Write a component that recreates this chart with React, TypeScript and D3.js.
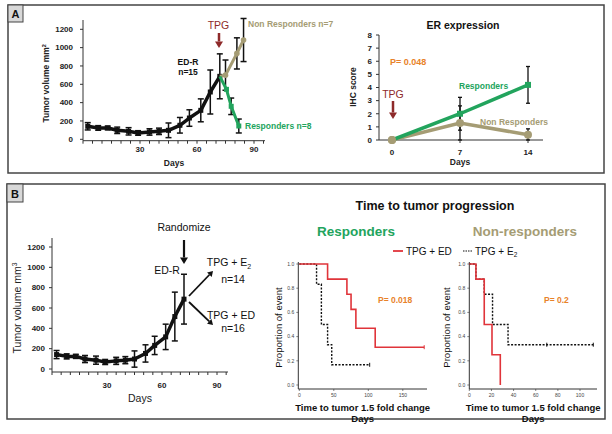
import React from 'react';
import * as d3 from 'd3';

// ---------- DATA ----------
const growthDays = [2.5, 8, 13, 18, 24, 29, 35, 40, 45, 51, 56, 62, 67, 72];
const growthVol = [142, 124, 124, 98, 87, 69, 80, 87, 98, 153, 232, 316, 516, 687];
const growthErr = [40, 25, 20, 35, 40, 25, 35, 35, 80, 85, 90, 125, 240, 245];

const respDays = [72, 75.5, 78, 82];
const respVol = [687, 545, 360, 145];
const respErr = [0, 0, 90, 76];

const nonRespDays = [72, 75, 81, 84.5];
const nonRespVol = [687, 700, 937, 1083];
const nonRespErr = [0, 165, 170, 235];

const volTicks = [0, 200, 400, 600, 800, 1000, 1200];
const dayTicks = [30, 60, 90];

const erDays = [0, 7, 14];
const erResp = [0, 2, 4.2];
const erRespErr = [0, 1.25, 1.4];
const erNon = [0, 1.3, 0.4];
const erNonErr = [0, 1.3, 0.45];
const ihcTicks = [0, 1, 2, 3, 4, 5, 6, 7, 8];

const kmRespEDTimes = [0, 41, 69, 75, 82, 110];
const kmRespEDSurv = [1, 0.875, 0.75, 0.625, 0.469, 0.3125];
const kmRespEDEnd = 181;
const kmRespE2Times = [0, 25, 32, 41, 47];
const kmRespE2Surv = [1, 0.833, 0.5, 0.333, 0.167];
const kmRespE2End = 102;

const kmNonEDTimes = [0, 6, 13.5, 20.5, 28];
const kmNonEDSurv = [1, 0.875, 0.5, 0.25, 0];
const kmNonEDEnd = 28;
const kmNonE2Times = [0, 6, 13.5, 21, 35];
const kmNonE2Surv = [1, 0.875, 0.75, 0.5, 0.333];
const kmNonE2End = 112;
const kmNonE2Censor = [70, 112];

const propTicks = [0, 0.2, 0.4, 0.6, 0.8, 1.0];
const kmRespXTicks = [0, 50, 100, 150];
const kmNonXTicks = [0, 20, 40, 60, 80, 100];

// ---------- STYLE ----------
const FONT = "Arial, 'Liberation Sans', sans-serif";
const GREEN = '#22a45d';
const TAN = '#a59c74';
const DARKRED = '#8e2a2a';
const ORANGE = '#e8822a';
const RED = '#e0343a';
const AXIS = '#333';

type Pt = [number, number];

function ErrBars({ xs, ys, es, x, y, cap = 3, color = '#111', w = 1.5 }: any) {
  return (
    <g stroke={color} strokeWidth={w}>
      {xs.map((d: number, i: number) =>
        es[i] > 0 ? (
          <g key={i}>
            <line x1={x(d)} x2={x(d)} y1={y(ys[i] + es[i])} y2={y(Math.max(0, ys[i] - es[i]))} />
            <line x1={x(d) - cap} x2={x(d) + cap} y1={y(ys[i] + es[i])} y2={y(ys[i] + es[i])} />
            <line x1={x(d) - cap} x2={x(d) + cap} y1={y(Math.max(0, ys[i] - es[i]))} y2={y(Math.max(0, ys[i] - es[i]))} />
          </g>
        ) : null
      )}
    </g>
  );
}

function Arrow({ x1, y1, x2, y2, color, w = 2.5, head = 6 }: any) {
  const ang = Math.atan2(y2 - y1, x2 - x1);
  const hx = x2 - Math.cos(ang) * head * 1.3;
  const hy = y2 - Math.sin(ang) * head * 1.3;
  const px = Math.sin(ang) * head * 0.8;
  const py = -Math.cos(ang) * head * 0.8;
  return (
    <g>
      <line x1={x1} y1={y1} x2={hx} y2={hy} stroke={color} strokeWidth={w} />
      <polygon points={`${x2},${y2} ${hx + px},${hy + py} ${hx - px},${hy - py}`} fill={color} />
    </g>
  );
}

function GrowthChart({ x, y, axisY, yTop, xEnd, tickFont, labelFont, labelBold, yLabelX, daysY, tickLabelY, yLabelRight, showBranches }: any) {
  const line = d3.line<Pt>().x((d) => x(d[0])).y((d) => y(d[1]));
  const blackPts: Pt[] = growthDays.map((d, i) => [d, growthVol[i]]);
  const respPts: Pt[] = respDays.map((d, i) => [d, respVol[i]]);
  const nonPts: Pt[] = nonRespDays.map((d, i) => [d, nonRespVol[i]]);
  const minor = d3.range(0, 96, 5);
  const x0 = x(0);
  return (
    <g fontFamily={FONT}>
      <line x1={x0} x2={x0} y1={yTop} y2={axisY} stroke={AXIS} strokeWidth={1} />
      <line x1={x0} x2={xEnd} y1={axisY} y2={axisY} stroke={AXIS} strokeWidth={1} />
      {volTicks.map((t) => (
        <g key={t}>
          <line x1={x0 - 3} x2={x0} y1={y(t)} y2={y(t)} stroke={AXIS} />
          <text x={yLabelRight} y={y(t)} dy="0.35em" textAnchor="end" fontSize={tickFont} fontWeight="bold" fill="#222">{t}</text>
        </g>
      ))}
      {minor.map((t) => (
        <line key={t} x1={x(t)} x2={x(t)} y1={axisY} y2={axisY + 3} stroke={AXIS} />
      ))}
      {dayTicks.map((t) => (
        <text key={t} x={x(t)} y={tickLabelY} textAnchor="middle" fontSize={tickFont} fontWeight="bold" fill="#222">{t}</text>
      ))}
      <text x={(x0 + xEnd) / 2} y={daysY} textAnchor="middle" fontSize={labelFont} fontWeight={labelBold ? 'bold' : 'normal'} fill="#222">Days</text>
      <text transform={`translate(${yLabelX},${(yTop + axisY) / 2 + 3}) rotate(-90)`} textAnchor="middle" fontSize={labelFont} fontWeight={labelBold ? 'bold' : 'normal'} fill="#222">
        Tumor volume mm<tspan dy={-labelFont * 0.4} fontSize={labelFont * 0.65}>{showBranches ? '2' : '3'}</tspan>
      </text>
      <ErrBars xs={growthDays} ys={growthVol} es={growthErr} x={x} y={y} />
      <path d={line(blackPts) || ''} fill="none" stroke="#111" strokeWidth={3.5} strokeLinejoin="round" />
      {blackPts.map((p, i) => (
        <rect key={i} x={x(p[0]) - 2.5} y={y(p[1]) - 2.5} width={5} height={5} fill="#111" />
      ))}
      {showBranches && (
        <g>
          <ErrBars xs={nonRespDays} ys={nonRespVol} es={nonRespErr} x={x} y={y} />
          <ErrBars xs={respDays} ys={respVol} es={respErr} x={x} y={y} />
          <path d={line(nonPts) || ''} fill="none" stroke={TAN} strokeWidth={3} />
          {nonPts.slice(1).map((p, i) => (
            <circle key={i} cx={x(p[0])} cy={y(p[1])} r={2.8} fill={TAN} />
          ))}
          <path d={line(respPts) || ''} fill="none" stroke={GREEN} strokeWidth={3} />
          {respPts.slice(1).map((p, i) => (
            <rect key={i} x={x(p[0]) - 2.5} y={y(p[1]) - 2.5} width={5} height={5} fill={GREEN} />
          ))}
        </g>
      )}
    </g>
  );
}

function KM({ x, y, axisX, axisY, yTop, xEnd, xTicks, yLabelX, title, titleColor, titleX, pText, pX }: any) {
  return (
    <g fontFamily={FONT}>
      <line x1={axisX} x2={axisX} y1={yTop} y2={axisY} stroke={AXIS} strokeWidth={1} />
      <line x1={axisX} x2={xEnd} y1={axisY} y2={axisY} stroke={AXIS} strokeWidth={1} />
      {propTicks.map((t) => (
        <g key={t}>
          <line x1={axisX - 2} x2={axisX} y1={y(t)} y2={y(t)} stroke={AXIS} strokeWidth={0.6} />
          <text x={axisX - 4} y={y(t)} dy="0.35em" textAnchor="end" fontSize={5} fill="#444">{t.toFixed(1)}</text>
        </g>
      ))}
      {xTicks.map((t: number) => (
        <g key={t}>
          <line x1={x(t)} x2={x(t)} y1={axisY} y2={axisY + 2} stroke={AXIS} strokeWidth={0.6} />
          <text x={x(t)} y={axisY + 8} textAnchor="middle" fontSize={5} fill="#444">{t}</text>
        </g>
      ))}
      <text x={(axisX + xEnd) / 2} y={axisY + 22} textAnchor="middle" fontSize={9.5} fontWeight="bold" fill="#111">Time to tumor 1.5 fold change</text>
      <text x={(axisX + xEnd) / 2} y={axisY + 32.5} textAnchor="middle" fontSize={9.5} fontWeight="bold" fill="#111">Days</text>
      <text transform={`translate(${yLabelX},${(yTop + axisY) / 2 + 2}) rotate(-90)`} textAnchor="middle" fontSize={9.5} fill="#111">Proportion of event</text>
      <text x={titleX} y={236} textAnchor="middle" fontSize={13.5} fontWeight="bold" fill={titleColor}>{title}</text>
      <text x={pX} y={303} fontSize={8.5} fontWeight="bold" fill={ORANGE}>{pText}</text>
    </g>
  );
}

function stepPath(times: number[], surv: number[], end: number, x: any, y: any) {
  const pts: Pt[] = times.map((t, i) => [t, surv[i]]);
  pts.push([end, surv[surv.length - 1]]);
  return d3.line<Pt>().x((d) => x(d[0])).y((d) => y(d[1])).curve(d3.curveStepAfter)(pts) || '';
}

export default function App() {
  const xA = d3.scaleLinear().domain([0, 96]).range([83, 265.4]);
  const yA = d3.scaleLinear().domain([0, 1200]).range([139.3, 29.3]);
  const xB = d3.scaleLinear().domain([0, 96]).range([52, 228]);
  const yB = d3.scaleLinear().domain([0, 1200]).range([369, 247]);
  const xE = d3.scaleLinear().domain([0, 14]).range([392, 528]);
  const yE = d3.scaleLinear().domain([0, 8]).range([140, 35]);
  const lineE = d3.line<Pt>().x((d) => xE(d[0])).y((d) => yE(d[1]));
  const xK1 = d3.scaleLinear().domain([0, 150]).range([299.3, 402.8]);
  const yK = d3.scaleLinear().domain([0, 1]).range([385, 264]);
  const xK2 = d3.scaleLinear().domain([0, 100]).range([469.3, 580]);

  return (
    <svg width={612} height={434} style={{ position: 'absolute', left: 0, top: 0, background: '#fff' }} fontFamily={FONT}>
      <rect x={0} y={0} width={612} height={434} fill="#fff" />
      <rect x={8} y={5} width={596} height={168} fill="none" stroke="#444" strokeWidth={1.5} />
      <rect x={8} y={5} width={15} height={17} fill="#d8d8d8" stroke="#444" strokeWidth={1} />
      <text x={15.5} y={18} textAnchor="middle" fontSize={11} fontWeight="bold" fill="#111">A</text>
      <rect x={7} y={184} width={598} height={235} fill="none" stroke="#444" strokeWidth={1.5} />
      <rect x={7} y={184} width={16} height={18} fill="#d8d8d8" stroke="#444" strokeWidth={1} />
      <text x={15} y={197.5} textAnchor="middle" fontSize={11} fontWeight="bold" fill="#111">B</text>

      <GrowthChart x={xA} y={yA} axisY={140.7} yTop={20} xEnd={265} tickFont={8} labelFont={8.5} labelBold={true}
        yLabelX={49} daysY={166} tickLabelY={152} yLabelRight={73} showBranches={true} />
      <text x={218.5} y={29} textAnchor="middle" fontSize={10.5} fill={DARKRED}>TPG</text>
      <Arrow x1={219} y1={33} x2={219} y2={48} color={DARKRED} w={2.5} head={5} />
      <text x={188} y={65} textAnchor="middle" fontSize={8.5} fontWeight="bold" fill="#111">ED-R</text>
      <text x={188} y={75} textAnchor="middle" fontSize={8.5} fontWeight="bold" fill="#111">n=15</text>
      <text x={248} y={27} fontSize={8.5} fontWeight="bold" fill={TAN}>Non Responders  n=7</text>
      <text x={245} y={129} fontSize={8.5} fontWeight="bold" fill={GREEN}>Responders n=8</text>

      <g fontFamily={FONT}>
        <text x={463} y={29} textAnchor="middle" fontSize={10.5} fontWeight="bold" fill="#111">ER expression</text>
        <line x1={379} x2={379} y1={35} y2={140} stroke={AXIS} />
        <line x1={379} x2={543} y1={140} y2={140} stroke={AXIS} />
        {ihcTicks.map((t) => (
          <g key={t}>
            <line x1={376} x2={379} y1={yE(t)} y2={yE(t)} stroke={AXIS} />
            <text x={372} y={yE(t)} dy="0.35em" textAnchor="end" fontSize={8} fontWeight="bold" fill="#222">{t}</text>
          </g>
        ))}
        {erDays.map((t) => (
          <g key={t}>
            <line x1={xE(t)} x2={xE(t)} y1={140} y2={143} stroke={AXIS} />
            <text x={xE(t)} y={155} textAnchor="middle" fontSize={8} fontWeight="bold" fill="#222">{t}</text>
          </g>
        ))}
        <text x={460} y={165} textAnchor="middle" fontSize={8.5} fontWeight="bold" fill="#222">Days</text>
        <text transform="translate(356,87) rotate(-90)" textAnchor="middle" fontSize={8.5} fontWeight="bold" fill="#222">IHC score</text>
        <ErrBars xs={erDays} ys={erNon} es={erNonErr} x={xE} y={yE} cap={2} w={1.3} />
        <ErrBars xs={erDays} ys={erResp} es={erRespErr} x={xE} y={yE} cap={2} w={1.3} />
        <path d={lineE(erDays.map((d, i) => [d, erNon[i]] as Pt)) || ''} fill="none" stroke={TAN} strokeWidth={3.5} />
        {erDays.map((d, i) => (
          <circle key={i} cx={xE(d)} cy={yE(erNon[i])} r={4} fill={TAN} />
        ))}
        <path d={lineE(erDays.map((d, i) => [d, erResp[i]] as Pt)) || ''} fill="none" stroke={GREEN} strokeWidth={3.5} />
        {erDays.slice(1).map((d, i) => (
          <rect key={i} x={xE(d) - 3} y={yE(erResp[i + 1]) - 3} width={6} height={6} fill={GREEN} />
        ))}
        <circle cx={xE(0)} cy={yE(0)} r={4} fill={TAN} />
        <text x={390} y={65} fontSize={9} fontWeight="bold" fill={ORANGE}>P= 0.048</text>
        <text x={393} y={98} textAnchor="middle" fontSize={10.5} fill={DARKRED}>TPG</text>
        <Arrow x1={393} y1={101} x2={393} y2={119} color={DARKRED} w={2.5} head={5} />
        <text x={459} y={89} fontSize={8.5} fontWeight="bold" fill={GREEN}>Responders</text>
        <text x={480} y={125} fontSize={8.5} fontWeight="bold" fill={TAN}>Non Responders</text>
      </g>

      <GrowthChart x={xB} y={yB} axisY={372} yTop={238} xEnd={228} tickFont={8} labelFont={10.5} labelBold={false}
        yLabelX={21} daysY={402} tickLabelY={388} yLabelRight={45} showBranches={false} />
      <text x={184} y={231} textAnchor="middle" fontSize={10.5} fill="#111">Randomize</text>
      <Arrow x1={184} y1={240} x2={184} y2={264} color="#111" w={2.2} head={5} />
      <text x={167} y={274} textAnchor="middle" fontSize={10.5} fill="#111">ED-R</text>
      <Arrow x1={189} y1={296} x2={213} y2={271} color="#111" w={1.8} head={4} />
      <Arrow x1={189} y1={302} x2={213} y2={325} color="#111" w={1.8} head={4} />
      <text x={229} y={266} textAnchor="middle" fontSize={10.5} fill="#111">TPG + E<tspan dy={3} fontSize={7}>2</tspan></text>
      <text x={233} y={283} textAnchor="middle" fontSize={10.5} fill="#111">n=14</text>
      <text x={231} y={319} textAnchor="middle" fontSize={10.5} fill="#111">TPG + ED</text>
      <text x={233} y={332} textAnchor="middle" fontSize={10.5} fill="#111">n=16</text>

      <text x={435} y={210} textAnchor="middle" fontSize={12.5} fontWeight="bold" fill="#111">Time to tumor progression</text>
      <line x1={393} x2={403} y1={251} y2={251} stroke={RED} strokeWidth={1.8} />
      <text x={406} y={254.5} fontSize={10} fill="#111">TPG + ED</text>
      <line x1={463} x2={472} y1={251} y2={251} stroke="#111" strokeWidth={1.2} strokeDasharray="1.5,1" />
      <text x={475} y={254.5} fontSize={10} fill="#111">TPG + E<tspan dy={2.5} fontSize={6.5}>2</tspan></text>

      <KM x={xK1} y={yK} axisX={298.3} axisY={389} yTop={262} xEnd={427} xTicks={kmRespXTicks} yLabelX={282}
        title="Responders" titleColor={GREEN} titleX={356} pText="P= 0.018" pX={378} />
      <path d={stepPath(kmRespE2Times, kmRespE2Surv, kmRespE2End, xK1, yK)} fill="none" stroke="#111" strokeWidth={1.4} strokeDasharray="2,1.5" />
      <path d={stepPath(kmRespEDTimes, kmRespEDSurv, kmRespEDEnd, xK1, yK)} fill="none" stroke={RED} strokeWidth={1.6} />
      <line x1={xK1(kmRespEDEnd)} x2={xK1(kmRespEDEnd)} y1={yK(0.3125) - 2} y2={yK(0.3125) + 2} stroke={RED} strokeWidth={1} />
      <line x1={xK1(kmRespE2End)} x2={xK1(kmRespE2End)} y1={yK(0.167) - 2} y2={yK(0.167) + 2} stroke="#111" strokeWidth={1} />

      <KM x={xK2} y={yK} axisX={469.3} axisY={389} yTop={262} xEnd={597} xTicks={kmNonXTicks} yLabelX={450}
        title="Non-responders" titleColor={TAN} titleX={525} pText="P= 0.2" pX={544} />
      <path d={stepPath(kmNonE2Times, kmNonE2Surv, kmNonE2End, xK2, yK)} fill="none" stroke="#111" strokeWidth={1.4} strokeDasharray="2,1.5" />
      <path d={stepPath(kmNonEDTimes, kmNonEDSurv, kmNonEDEnd, xK2, yK)} fill="none" stroke={RED} strokeWidth={1.6} />
      {kmNonE2Censor.map((c) => (
        <line key={c} x1={xK2(c)} x2={xK2(c)} y1={yK(0.333) - 2} y2={yK(0.333) + 2} stroke="#111" strokeWidth={1} />
      ))}
    </svg>
  );
}
